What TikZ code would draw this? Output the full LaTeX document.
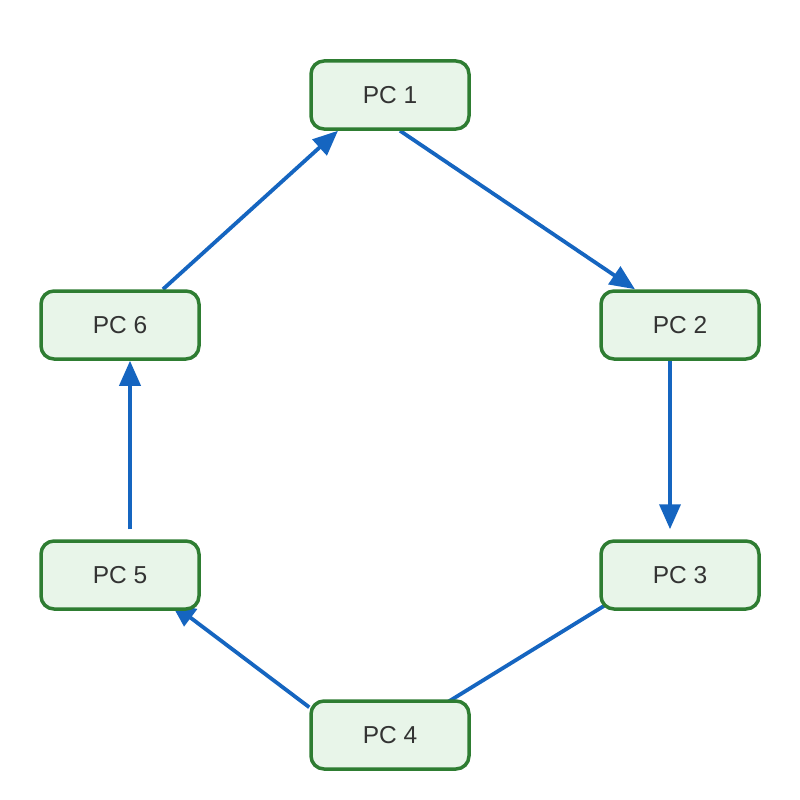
\documentclass[tikz,border=0pt]{standalone}
\usepackage{fontspec}
\setmainfont{Liberation Sans}
\usetikzlibrary{arrows.meta,calc}
\definecolor{nodeborder}{HTML}{2E7D32}
\definecolor{nodefill}{HTML}{E8F5E9}
\definecolor{edgeblue}{HTML}{1565C0}
\definecolor{txt}{HTML}{333333}
\pgfdeclarelayer{background}
\pgfsetlayers{background,main}
\tikzset{
  pcbox/.style={draw=nodeborder, fill=nodefill, line width=3.5pt, rounded corners=13pt,
    minimum width=158pt, minimum height=68pt, inner sep=0pt, text=txt,
    font=\fontsize{24.5}{28}\selectfont},
  link/.style={draw=edgeblue, line width=3.8pt, -{Triangle[length=25pt,width=21pt]}}
}
\begin{document}
\begin{tikzpicture}[x=1pt,y=-1pt]
\useasboundingbox (0,0) rectangle (800,800);
\node[pcbox] (pc1) at (390,95) {PC 1};
\node[pcbox] (pc2) at (680,325) {PC 2};
\node[pcbox] (pc3) at (680,575) {PC 3};
\node[pcbox] (pc4) at (390,735) {PC 4};
\node[pcbox] (pc5) at (120,575) {PC 5};
\node[pcbox] (pc6) at (120,325) {PC 6};
\begin{pgfonlayer}{background}
\draw[link] ($(pc1.south)+(10,0)$) -- ($(pc2.north)+(-45,0)$);
\draw[link] ($(pc2.south)+(-10,0)$) -- ($(pc3.north)+(-10,-10)$);
\draw[link] ($(pc3.south west)+(5,-5)$) -- ($(pc4.north)+(20,26)$);
\draw[link] ($(pc4.north west)+(0,8)$) -- ($(pc5.south east)+(-30,-8)$);
\draw[link] ($(pc5.north)+(10,-10)$) -- ($(pc6.south)+(10,0)$);
\draw[link] ($(pc6.north)+(43,0)$) -- ($(pc1.south)+(-52,0)$);
\end{pgfonlayer}
\end{tikzpicture}
\end{document}
